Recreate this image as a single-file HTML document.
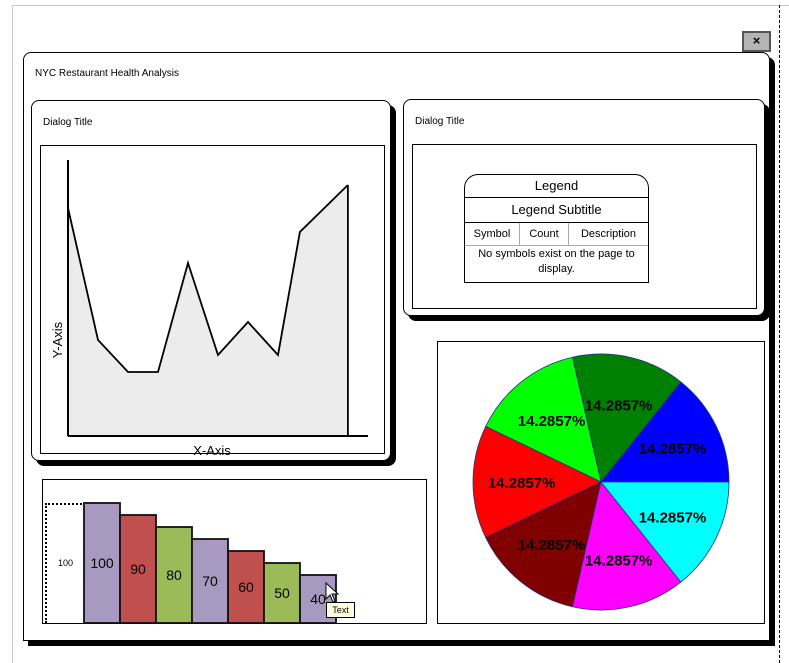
<!DOCTYPE html>
<html><head><meta charset="utf-8"><style>
body{margin:0;width:789px;height:663px;background:#fff;position:relative;overflow:hidden;font-family:"Liberation Sans",sans-serif;}
.abs{position:absolute;box-sizing:border-box;}
.win{border:1.5px solid #000;background:#fff;box-shadow:5px 5px 0 #000;}
.lbl{font-size:10px;color:#000;}
table{border-collapse:collapse;font-size:11px;}
</style></head><body>
<div class="abs" style="left:12px;top:5px;width:777px;height:1px;background:#c8c8c8"></div>
<div class="abs" style="left:12px;top:5px;width:1px;height:658px;background:#c8c8c8"></div>
<div class="abs" style="left:779px;top:5px;width:0;height:658px;border-left:1.5px dashed #000"></div>
<div class="abs" style="left:742px;top:31px;width:29px;height:21px;background:#b4b4b4;border:2px solid #555;font-size:13px;font-weight:bold;text-align:center;line-height:16px">×</div>

<div class="abs win" style="left:23px;top:52px;width:747px;height:589px;border-radius:8px 8px 0 0"></div>
<div class="abs lbl" style="left:35px;top:68px">NYC Restaurant Health Analysis</div>

<div class="abs win" style="left:31px;top:100px;width:360px;height:361px;border-radius:8px"></div>
<div class="abs lbl" style="left:43px;top:117px">Dialog Title</div>
<div class="abs" style="left:40px;top:145px;width:345px;height:309px;border:1px solid #000"></div>
<svg class="abs" style="left:0;top:0" width="789" height="663" id="lineSvg"></svg>

<div class="abs win" style="left:403px;top:99px;width:362px;height:217px;border-radius:8px"></div>
<div class="abs lbl" style="left:415px;top:116px">Dialog Title</div>
<div class="abs" style="left:412px;top:144px;width:345px;height:165px;border:1px solid #000"></div>
<div class="abs" style="left:464px;top:174px;width:185px;height:109px;border:1px solid #000;border-radius:14px 14px 0 0;overflow:hidden">
<div style="height:22px;border-bottom:1px solid #000;text-align:center;font-size:13px;line-height:22px">Legend</div>
<div style="height:24px;border-bottom:1px solid #000;text-align:center;font-size:13px;line-height:24px">Legend Subtitle</div>
<table style="width:100%"><tr style="height:22px;border-bottom:1px solid #aaa">
<td style="border-right:1px solid #aaa;text-align:center;width:52px">Symbol</td>
<td style="border-right:1px solid #aaa;text-align:center;width:46px">Count</td>
<td style="text-align:center">Description</td></tr>
<tr><td colspan="3" style="text-align:center;line-height:15px;padding-top:1px">No symbols exist on the page to display.</td></tr></table>
</div>

<div class="abs" style="left:437px;top:341px;width:328px;height:283px;border:1px solid #000"></div>
<div class="abs" style="left:42px;top:479px;width:385px;height:145px;border:1px solid #000"></div>
<div class="abs" style="left:45px;top:503px;width:40px;height:120px;border-left:2px dotted #000;border-top:2px dotted #000"></div>
<div class="abs" style="left:58px;top:558px;font-size:9px">100</div>
<svg class="abs" style="left:0;top:0" width="789" height="663" id="chartSvg"></svg>
<div class="abs" style="left:326px;top:602px;width:29px;height:16px;background:#ffffe1;border:1px solid #000;font-size:9px;text-align:center;line-height:14px">Text</div>

<script>
const lineX=[0,1,2,3,4,5,6,7,7.73,9.33];
const lineY=[228,96,64,64,173,81,114,81,204,251];
const pieLabels=["14.2857%","14.2857%","14.2857%","14.2857%","14.2857%","14.2857%","14.2857%"];
const pieValues=[1,1,1,1,1,1,1];
const pieColors=["#0000ff","#008000","#00ff00","#ff0000","#800000","#ff00ff","#00ffff"];
const barValues=[100,90,80,70,60,50,40];
const barColors=["#a899c0","#c0504d","#9bbb59","#a899c0","#c0504d","#9bbb59","#a899c0"];
const NS="http://www.w3.org/2000/svg";
function mk(p,t,a){const e=document.createElementNS(NS,t);for(const k in a)e.setAttribute(k,a[k]);p.appendChild(e);return e;}
// line chart
const ls=document.getElementById('lineSvg');
const lx=v=>68+30*v, ly=v=>436-v;
let d=lineX.map((v,i)=>(i?'L':'M')+lx(v)+','+ly(lineY[i])).join(' ');
const area=mk(ls,'path',{d:d+` L${lx(lineX[lineX.length-1])},436 L${lx(lineX[0])},436 Z`,fill:'#ececec',stroke:'none'});


const ln=mk(ls,'path',{d:d,fill:'none',stroke:'#000','stroke-width':1.8});


const ya=mk(ls,'line',{x1:68,y1:160,x2:68,y2:436,stroke:'#000','stroke-width':2});


const xa=mk(ls,'line',{x1:68,y1:436,x2:368,y2:436,stroke:'#000','stroke-width':2});


mk(ls,'line',{x1:lx(lineX[lineX.length-1]),y1:ly(lineY[lineY.length-1]),x2:lx(lineX[lineX.length-1]),y2:436,stroke:'#000','stroke-width':1.8});
const xt=mk(ls,'text',{x:212,y:455,'font-size':13,'text-anchor':'middle','font-family':'Liberation Sans'});xt.textContent='X-Axis';


const yt=mk(ls,'text',{x:0,y:0,'font-size':13,'text-anchor':'middle','font-family':'Liberation Sans',transform:'translate(62,340) rotate(-90)'});yt.textContent='Y-Axis';


// pie
const cs=document.getElementById('chartSvg');
const cx=601,cy=482,r=128;const tot=pieValues.reduce((a,b)=>a+b,0);
let a0=0;
pieValues.forEach((v,i)=>{const a1=a0+v/tot*2*Math.PI;
 const p=mk(cs,'path',{d:`M${cx},${cy} L${cx+r*Math.cos(a0)},${cy-r*Math.sin(a0)} A${r},${r} 0 0 0 ${cx+r*Math.cos(a1)},${cy-r*Math.sin(a1)} Z`,fill:pieColors[i],stroke:'#203080','stroke-width':0.8});
 
 
 a0=a1;});
a0=0;
pieValues.forEach((v,i)=>{const a1=a0+v/tot*2*Math.PI,m=(a0+a1)/2;
 const t=mk(cs,'text',{x:cx+r*0.62*Math.cos(m),y:cy-r*0.62*Math.sin(m)+6,'font-size':15,'font-weight':'bold','text-anchor':'middle','font-family':'Liberation Sans'});t.textContent=pieLabels[i];
 
 
 a0=a1;});
// bars
const base=623,sc=1.2,bw=36,bx0=84;
barValues.forEach((v,i)=>{const h=v*sc,x=bx0+i*bw;
 const b=mk(cs,'rect',{x:x,y:base-h,width:bw,height:h,fill:barColors[i],stroke:'#111','stroke-width':1.8});
 
 
 const t=mk(cs,'text',{x:x+bw/2,y:base-h/2+5,'font-size':14,'text-anchor':'middle','font-family':'Liberation Sans'});t.textContent=String(v);
 
 });
const cur=mk(cs,'path',{d:'M326,583 L326,599 L330,595 L333,602 L335,601 L332,594 L338,594 Z',fill:'#fff',stroke:'#000','stroke-width':1});


</script>
</body></html>
